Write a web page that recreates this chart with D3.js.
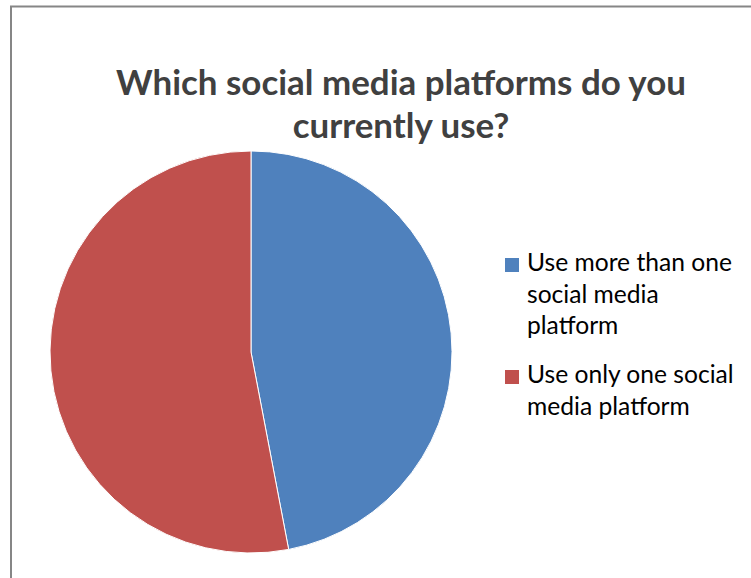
<!DOCTYPE html>
<html>
<head>
<meta charset="utf-8">
<script src="https://cdn.jsdelivr.net/npm/d3@7"></script>
<style>
  body { margin: 0; background: #fff; }
  svg { display: block; }
</style>
</head>
<body>
<svg id="chart" width="751" height="578"></svg>
<script>
// data
const categories = ["Use more than one social media platform", "Use only one social media platform"]
const values     = [47, 53]
const colors     = ["#4F81BD", "#C0504D"]
const titleLines = ["Which social media platforms do you", "currently use?"]

const svg = d3.select("#chart")
const font = "Lato, 'Open Sans', sans-serif"

// outer frame (right/bottom edges run off the page)
svg.append("rect")
   .attr("x", 11).attr("y", 6.5)
   .attr("width", 900).attr("height", 900)
   .attr("fill", "none")
   .attr("stroke", "#868686")
   .attr("stroke-width", 2)

// title, sized so the first line is about 570px wide
const title = svg.append("text")
   .attr("text-anchor", "middle")
   .attr("font-family", font)
   .attr("font-weight", "bold")
   .attr("fill", "#404040")
   .attr("font-size", 30)

title.selectAll("tspan")
   .data(titleLines)
   .join("tspan")
   .attr("x", 401)
   .attr("y", (d, i) => 95 + i * 43)
   .text(d => d)

const w1 = title.select("tspan").node().getComputedTextLength()
title.attr("font-size", 30 * 570 / w1)

// pie
const cx = 251, cy = 352, r = 201
const pie = d3.pie().sort(null).value(d => d)
const arc = d3.arc().innerRadius(0).outerRadius(r)

svg.append("g")
   .attr("transform", `translate(${cx},${cy})`)
   .selectAll("path")
   .data(pie(values))
   .join("path")
   .attr("d", arc)
   .attr("fill", (d, i) => colors[i])
   .attr("stroke", "#fff")
   .attr("stroke-width", 1)

// legend
const legendX = 505, textX = 527, lineH = 31.5
const legendTop = [271, 383]

// measure a probe to fit the legend font to the picture
const probe = svg.append("text").attr("font-family", font).attr("font-size", 20).text("Use more than one")
const legendSize = 20 * 205 / probe.node().getComputedTextLength()
probe.remove()

function wrap(str, maxW) {
  const words = str.split(" ")
  const lines = []
  let cur = ""
  const t = svg.append("text").attr("font-family", font).attr("font-size", legendSize)
  words.forEach(w => {
    const test = cur ? cur + " " + w : w
    t.text(test)
    if (t.node().getComputedTextLength() > maxW && cur) {
      lines.push(cur)
      cur = w
    } else cur = test
  })
  lines.push(cur)
  t.remove()
  return lines
}

const legend = svg.append("g")
categories.forEach((c, i) => {
  legend.append("rect")
     .attr("x", legendX).attr("y", legendTop[i] - 13)
     .attr("width", 14).attr("height", 14)
     .attr("fill", colors[i])
  legend.append("text")
     .attr("font-family", font)
     .attr("font-size", legendSize)
     .attr("fill", "#000")
     .selectAll("tspan")
     .data(wrap(c, 212))
     .join("tspan")
     .attr("x", textX)
     .attr("y", (d, j) => legendTop[i] + j * lineH)
     .text(d => d)
})
</script>
</body>
</html>
